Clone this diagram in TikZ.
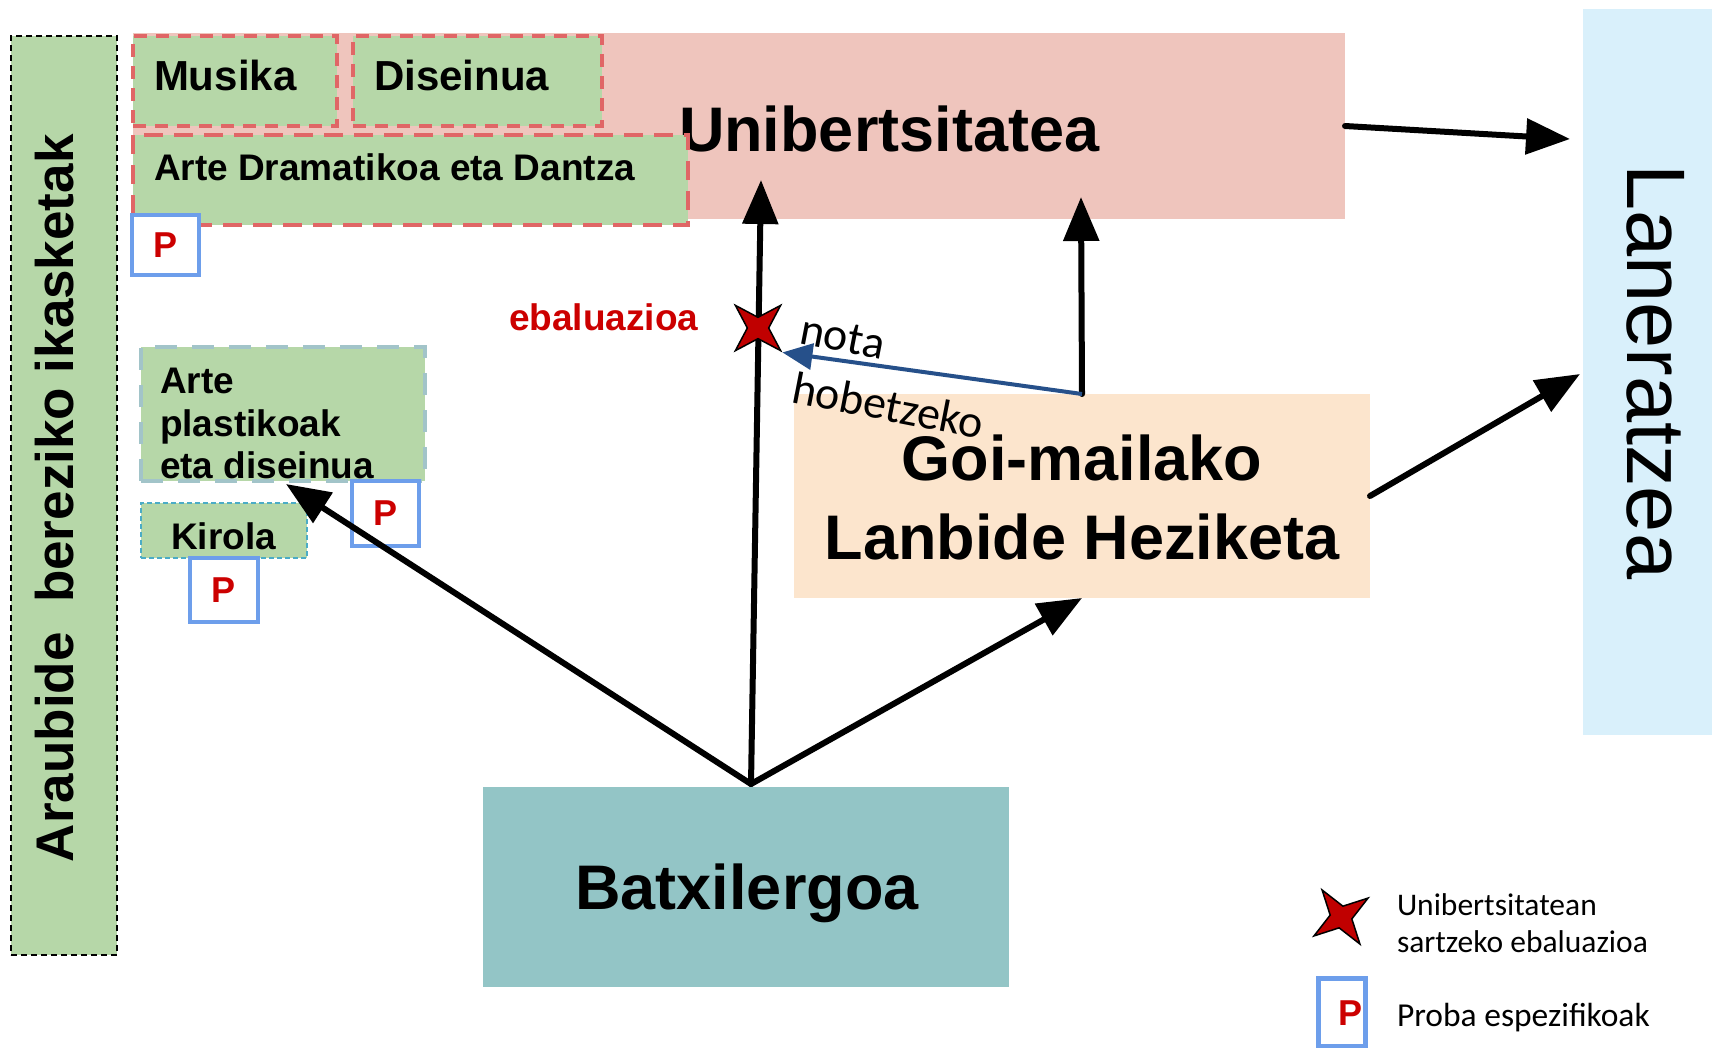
\documentclass[tikz,border=0pt]{standalone}
\usepackage{fontspec}
\setmainfont{Liberation Sans}
\newfontfamily\calfont{Carlito}
\usetikzlibrary{arrows.meta,shapes.geometric}
\definecolor{cgreen}{HTML}{B6D7A8}
\definecolor{cpink}{HTML}{EFC5BD}
\definecolor{cdred}{HTML}{E06666}
\definecolor{cpblue}{HTML}{6D9EEB}
\definecolor{cpred}{HTML}{CC0000}
\definecolor{cgray}{HTML}{A2C4C9}
\definecolor{ccyan}{HTML}{4BACC6}
\definecolor{corange}{HTML}{FCE5CD}
\definecolor{cteal}{HTML}{93C5C6}
\definecolor{clight}{HTML}{D9F0FB}
\definecolor{cnavy}{HTML}{26508A}
\definecolor{cstar}{HTML}{C00000}
\newcommand\myfs[1]{\fontsize{#1}{#1}\selectfont}
\begin{document}
\begin{tikzpicture}[x=1pt,y=-1pt,
  box/.style={anchor=north west,inner sep=0pt,outer sep=0pt},
  lbl/.style={anchor=base west,inner sep=0pt,outer sep=0pt},
  ctr/.style={anchor=base,inner sep=0pt,outer sep=0pt},
  greenbox/.style={box,fill=cgreen},
  reddash/.style={draw=cdred,line width=3.5pt,dash pattern=on 13pt off 9pt},
  pbox/.style={box,draw=cpblue,line width=4pt,fill=white,text=cpred,font=\myfs{36}\bfseries},
  arr/.style={line width=6pt,line cap=round,-{Triangle[length=44pt,width=35pt]}},
  bluearr/.style={draw=cnavy,line width=4pt,-{Triangle[length=30pt,width=26pt]}},
  redstar/.style={star,star points=4,star point ratio=3,fill=cstar,draw=black,line width=1.5pt,minimum size=64pt,inner sep=0pt},
  bigtxt/.style={font=\myfs{63}\bfseries},
  midtxt/.style={font=\myfs{37}\bfseries}
]
\useasboundingbox (0,0) rectangle (1712,1047);
\fill[white] (0,0) rectangle (1712,1047);

% left vertical box
\node[greenbox,draw=black,line width=1.5pt,dash pattern=on 6pt off 4pt,minimum width=106pt,minimum height=919pt] (arau) at (11,36) {};
\node[lbl,rotate=90,font=\myfs{53}\bfseries] (arautxt) at (73,862) {Araubide\ \ bereziko ikasketak};

% Unibertsitatea
\node[box,fill=cpink,minimum width=1212pt,minimum height=186pt] (uni) at (133,33) {};
\node[lbl,bigtxt] (unitxt) at (679,151) {Unibertsitatea};

\node[greenbox,reddash,minimum width=204pt,minimum height=90pt] (musika) at (133,36) {};
\node[greenbox,reddash,minimum width=249pt,minimum height=90pt] (diseinua) at (353,36) {};
\node[greenbox,draw=cdred,line width=4.5pt,dash pattern=on 19pt off 11pt,minimum width=555pt,minimum height=90pt] (dram) at (133,135) {};
\node[lbl,font=\myfs{42}\bfseries] (musikatxt) at (154,90) {Musika};
\node[lbl,font=\myfs{42}\bfseries] (diseinuatxt) at (374,90) {Diseinua};
\node[lbl,midtxt] (dramtxt) at (154,180) {Arte Dramatikoa eta Dantza};

% Arte plastikoak, Kirola
\node[greenbox,draw=cgray,line width=4pt,dash pattern=on 22pt off 15pt,minimum width=284pt,minimum height=134pt] (plast) at (141,347) {};
\node[greenbox,draw=ccyan,line width=1.5pt,dash pattern=on 5pt off 3pt,minimum width=166pt,minimum height=55pt] (kirola) at (141,503) {};
\node[lbl,midtxt] (plast1) at (160,393) {Arte};
\node[lbl,midtxt] (plast2) at (160,436) {plastikoak};
\node[lbl,midtxt] (plast3) at (160,478) {eta diseinua};
\node[lbl,midtxt] (kirolatxt) at (171,549) {Kirola};

% P boxes
\node[pbox,minimum width=67pt,minimum height=60pt] (p1) at (132,215) {P};
\node[pbox,minimum width=67pt,minimum height=65pt] (p2) at (352,481) {P};
\node[pbox,minimum width=68pt,minimum height=64pt] (p3) at (190,558) {P};

% Goi-mailako
\node[box,fill=corange,minimum width=576pt,minimum height=204pt] (goi) at (794,394) {};
\node[ctr,bigtxt] (goi1) at (1082,480) {Goi-mailako};
\node[ctr,bigtxt] (goi2) at (1082,559) {Lanbide Heziketa};

% Batxilergoa
\node[box,fill=cteal,minimum width=526pt,minimum height=200pt] (batx) at (483,787) {};
\node[ctr,bigtxt] (batxtxt) at (747,909) {Batxilergoa};

% Laneratzea
\node[box,fill=clight,minimum width=129pt,minimum height=726pt] (lan) at (1583,9) {};
\node[lbl,rotate=-90,font=\myfs{83}] (lantxt) at (1627,164) {Laneratzea};

% ebaluazioa
\node[lbl,font=\myfs{37}\bfseries,text=cpred] (ebal) at (509,330) {ebaluazioa};

% arrows
\coordinate (bx) at (751,784);
\coordinate (aptip) at (286,484);
\coordinate (unitip) at (761,180);
\coordinate (uniin) at (1081,197);
\coordinate (lantip1) at (1570,139);
\coordinate (lantip2) at (1580,374);
\draw[arr] (bx) -- (aptip);
\draw[arr] (bx) -- (unitip);
\draw[arr] (bx) -- (goi.south);
\draw[arr] (goi.north) -- (uniin);
\draw[arr] (uni.east) -- (lantip1);
\draw[arr] (goi.east) -- (lantip2);

% star and blue arrow
\node[redstar,shape border rotate=45] (star) at (758,328) {};
\draw[bluearr] (goi.north) -- (star.south east);
\node[lbl,rotate=-11,font=\calfont\myfs{46}] (nota) at (798,343) {nota};
\node[lbl,rotate=-11,font=\calfont\myfs{46}] (hobe) at (790,402) {hobetzeko};

% legend
\node[redstar,shape border rotate=35,minimum size=66pt] (lstar) at (1341,917) {};
\node[lbl,font=\calfont\myfs{31.5}] (leg1) at (1397,915) {Unibertsitatean};
\node[lbl,font=\calfont\myfs{31.5}] (leg2) at (1397,952) {sartzeko ebaluazioa};
\node[box,draw=cpblue,line width=5pt,fill=white,minimum width=47pt,minimum height=68pt] (lp) at (1318,978) {};
\node[ctr,font=\myfs{36}\bfseries,text=cpred] (lptxt) at (1350,1025) {P};
\node[lbl,font=\calfont\myfs{33.5}] (leg3) at (1397,1026) {Proba espezifikoak};
\end{tikzpicture}
\end{document}
